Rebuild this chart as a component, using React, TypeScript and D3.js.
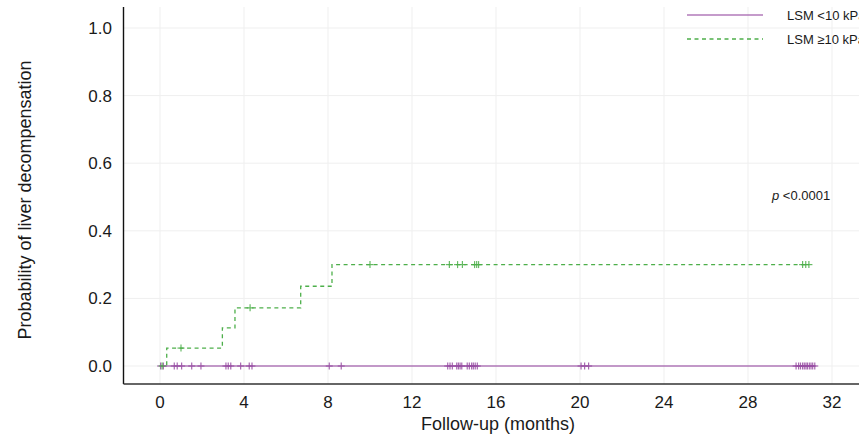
import React from "react";
import * as d3 from "d3";

const xTicks = [0, 4, 8, 12, 16, 20, 24, 28, 32];
const yTicks = [0, 0.2, 0.4, 0.6, 0.8, 1.0];

const seriesNames = ["LSM <10 kPa", "LSM \u226510 kPa"];

// LSM <10 kPa: no events
const lowTimes = [0];
const lowLevels = [0];
const lowEnd = 31.18;
const lowCensors = [
  0.03, 0.16, 0.68, 0.82, 1.03, 1.51, 1.95, 3.14, 3.25, 3.37, 3.84, 4.25, 4.38,
  8.06, 8.63, 13.7, 13.81, 13.92, 14.13, 14.21, 14.29, 14.37, 14.63, 14.73,
  14.84, 14.92, 15.01, 15.11, 20.05, 20.22, 20.41, 30.29, 30.41, 30.5, 30.6,
  30.68, 30.76, 30.83, 30.92, 31.0, 31.08, 31.18,
];

// LSM >=10 kPa: cumulative incidence steps
const highTimes = [0, 0.32, 2.97, 3.57, 6.7, 8.19];
const highLevels = [0, 0.053, 0.113, 0.172, 0.236, 0.3];
const highEnd = 30.9;
const highCensors = [0.1, 1.0, 4.29, 10.0, 13.78, 14.17, 14.4, 14.98, 15.08, 15.17, 30.6, 30.75, 30.9];

const W = 859;
const H = 441;
const FONT = "'Liberation Sans', Arial, Helvetica, sans-serif";

function levelAt(times: number[], levels: number[], t: number) {
  let v = levels[0];
  for (let i = 0; i < times.length; i++) if (times[i] <= t) v = levels[i];
  return v;
}

export default function App() {
  const x = d3.scaleLinear().domain([0, 32]).range([160, 832]);
  const y = d3.scaleLinear().domain([0, 1]).range([366, 28]);
  const left = 123.5;
  const bottom = 384;
  const top = 7;
  const right = 880;

  const stepPath = (times: number[], levels: number[], end: number) => {
    const pts: [number, number][] = times.map((t, i) => [t, levels[i]]);
    pts.push([end, levels[levels.length - 1]]);
    const line = d3
      .line<[number, number]>()
      .x((d) => x(d[0]))
      .y((d) => y(d[1]))
      .curve(d3.curveStepAfter);
    return line(pts) || "";
  };

  const purple = "#984ea3";
  const green = "#4daf4a";
  const arm = 3.5;

  const plus = (t: number, v: number, color: string, key: string) => (
    <g key={key} stroke={color} strokeWidth={1.2} opacity={0.85}>
      <line x1={x(t) - arm} x2={x(t) + arm} y1={y(v)} y2={y(v)} />
      <line x1={x(t)} x2={x(t)} y1={y(v) - arm} y2={y(v) + arm} />
    </g>
  );

  return (
    <svg width={W} height={H} style={{ position: "absolute", left: 0, top: 0, background: "#fff" }} fontFamily={FONT}>
      {/* grid */}
      <g stroke="#efefef" strokeWidth={1}>
        {xTicks.map((t) => (
          <line key={"gx" + t} x1={x(t)} x2={x(t)} y1={top} y2={bottom} />
        ))}
        {yTicks.map((t) => (
          <line key={"gy" + t} x1={left} x2={right} y1={y(t)} y2={y(t)} />
        ))}
      </g>

      {/* curves */}
      <path d={stepPath(lowTimes, lowLevels, lowEnd)} fill="none" stroke={purple} strokeOpacity={0.75} strokeWidth={1.6} />
      <path
        d={stepPath(highTimes, highLevels, highEnd)}
        fill="none"
        stroke={green}
        strokeWidth={1.3}
        strokeDasharray="4,3.5"
      />
      {lowCensors.map((t, i) => plus(t, levelAt(lowTimes, lowLevels, t), purple, "lc" + i))}
      {highCensors.map((t, i) => plus(t, levelAt(highTimes, highLevels, t), green, "hc" + i))}

      {/* axes */}
      <line x1={left} x2={left} y1={top} y2={bottom} stroke="#111" strokeWidth={1.4} />
      <line x1={left} x2={right} y1={bottom} y2={bottom} stroke="#333" strokeWidth={1.4} />

      {/* tick labels */}
      {xTicks.map((t) => (
        <text key={"xt" + t} x={x(t)} y={408} textAnchor="middle" fontSize={17} fill="#1a1a1a">
          {t}
        </text>
      ))}
      {yTicks.map((t) => (
        <text key={"yt" + t} x={112} y={y(t) + 6} textAnchor="end" fontSize={17} fill="#1a1a1a">
          {t.toFixed(1)}
        </text>
      ))}

      {/* axis titles */}
      <text x={498} y={430} textAnchor="middle" fontSize={18} fill="#1a1a1a">
        Follow-up (months)
      </text>
      <text
        transform={`translate(31,200) rotate(-90)`}
        textAnchor="middle"
        fontSize={18}
        fill="#1a1a1a"
      >
        Probability of liver decompensation
      </text>

      {/* legend */}
      <line x1={687} x2={763} y1={15} y2={15} stroke={purple} strokeOpacity={0.75} strokeWidth={1.6} />
      <line x1={687} x2={763} y1={39} y2={39} stroke={green} strokeWidth={1.3} strokeDasharray="4,3.5" />
      <text x={787} y={19.5} fontSize={13} fill="#1a1a1a">
        {seriesNames[0]}
      </text>
      <text x={787} y={43.5} fontSize={13} fill="#1a1a1a">
        {seriesNames[1]}
      </text>

      {/* p value */}
      <text x={772} y={200} fontSize={13} fill="#1a1a1a">
        <tspan fontStyle="italic">p</tspan>
        <tspan> {"<0.0001"}</tspan>
      </text>
    </svg>
  );
}
